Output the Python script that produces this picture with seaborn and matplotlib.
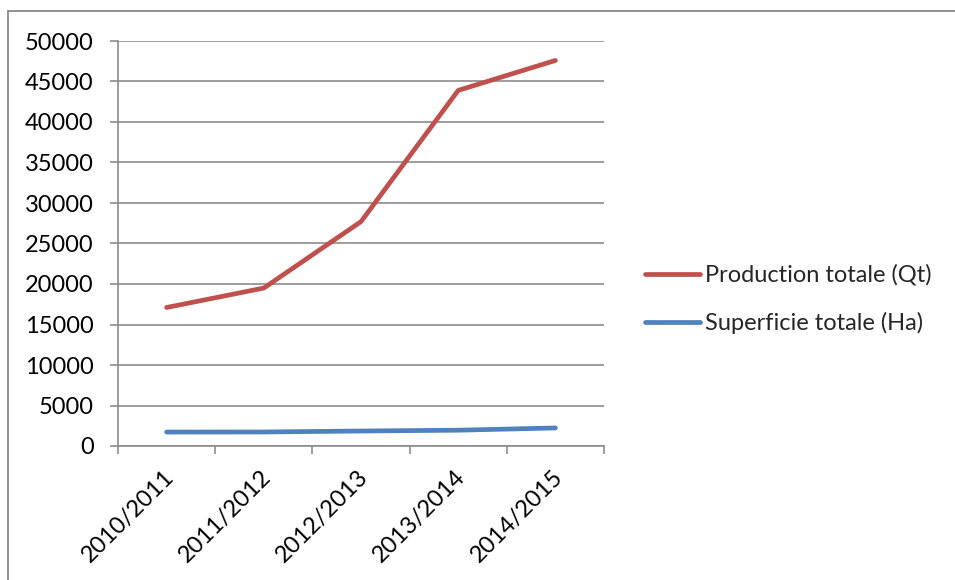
import matplotlib
matplotlib.use("Agg")
import matplotlib.pyplot as plt
from matplotlib.lines import Line2D
import pandas as pd
import seaborn as sns

# Campagnes agricoles et valeurs des deux séries
campagnes = ["2010/2011", "2011/2012", "2012/2013", "2013/2014", "2014/2015"]
production = [17100, 19500, 27700, 43900, 47600]   # Qt
superficie = [1720, 1730, 1850, 1950, 2230]        # Ha
series = ["Production totale (Qt)", "Superficie totale (Ha)"]
couleurs = ["#C0504D", "#4F81BD"]
y_ticks = list(range(0, 50001, 5000))

sns.set_theme(style="white")
plt.rcParams["font.family"] = ["Lato", "DejaVu Sans"]

df = pd.DataFrame({
    "Campagne": campagnes * 2,
    "Valeur": production + superficie,
    "Serie": [series[0]] * len(campagnes) + [series[1]] * len(campagnes),
})

W, H = 955, 580
fig = plt.figure(figsize=(W / 100, H / 100), dpi=100)
ax = fig.add_axes([118 / W, 1 - 446 / H, (604 - 118) / W, (446 - 41) / H])

sns.lineplot(data=df, x="Campagne", y="Valeur", hue="Serie", palette=couleurs,
             linewidth=3.4, sort=False, ax=ax, solid_capstyle="round")

grid_col = "#8c8c8c"
ax.set_ylim(0, 50000)
ax.set_xlim(-0.5, len(campagnes) - 0.5)
ax.set_yticks(y_ticks)
ax.set_yticklabels([str(v) for v in y_ticks])
ax.yaxis.grid(True, color=grid_col, linewidth=1.2)
ax.set_axisbelow(True)

# tick marks between categories, labels centred on each category
ax.set_xticks([i - 0.5 for i in range(len(campagnes) + 1)])
ax.set_xticklabels([])
ax.set_xticks([i + 0.04 for i in range(len(campagnes))], minor=True)
ax.set_xticklabels(campagnes, minor=True, rotation=45, ha="right",
                   va="center", rotation_mode="anchor")
ax.tick_params(axis="x", which="major", length=5.5, width=1.2, color=grid_col,
               direction="out", bottom=True)
ax.tick_params(axis="x", which="minor", length=0, pad=20, labelsize=17,
               labelcolor="black")
ax.tick_params(axis="y", length=5.5, width=1.2, color=grid_col, direction="out",
               left=True, pad=12, labelsize=17, labelcolor="black")
ax.set_xlabel("")
ax.set_ylabel("")
for side in ("top", "right"):
    ax.spines[side].set_visible(False)
for side in ("left", "bottom"):
    ax.spines[side].set_color(grid_col)
    ax.spines[side].set_linewidth(1.2)

handles, labels = ax.get_legend_handles_labels()
ax.get_legend().remove()
leg = fig.legend(handles, labels, loc="center left",
                 bbox_to_anchor=(645 / W, 1 - 299 / H), frameon=False,
                 fontsize=17, handlelength=2.35, handletextpad=0.2,
                 labelspacing=1.1, borderpad=0, borderaxespad=0)
for h in leg.legend_handles:
    h.set_linewidth(3.4)
    h.set_solid_capstyle("round")

# outer chart frame
frame_col = "#8a8a8a"
fig.add_artist(Line2D([8 / W, 8 / W], [1 - 11 / H, 0], color=frame_col, lw=1.3))
fig.add_artist(Line2D([8 / W, 1], [1 - 11 / H, 1 - 11 / H], color=frame_col, lw=1.3))

fig.savefig("out.png", dpi=100)
